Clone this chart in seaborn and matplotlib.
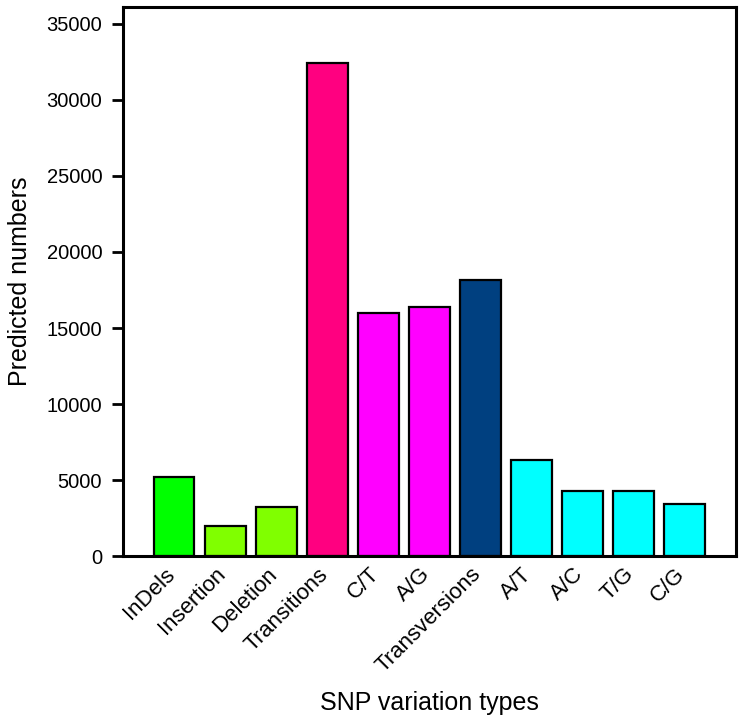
import matplotlib
matplotlib.use("Agg")
import matplotlib.pyplot as plt
import matplotlib.transforms as mtransforms
import seaborn as sns
import pandas as pd

# data
types = ["InDels", "Insertion", "Deletion", "Transitions", "C/T", "A/G",
         "Transversions", "A/T", "A/C", "T/G", "C/G"]
counts = [5200, 1950, 3200, 32400, 16000, 16350, 18150, 6300, 4300, 4300, 3400]
colors = ["#00FF00", "#80FF00", "#80FF00", "#FF0080", "#FF00FF", "#FF00FF",
          "#004080", "#00FFFF", "#00FFFF", "#00FFFF", "#00FFFF"]
yticks = [0, 5000, 10000, 15000, 20000, 25000, 30000, 35000]

df = pd.DataFrame({"type": types, "count": counts})

sns.set_style("white")
plt.rcParams["font.family"] = ["Liberation Sans", "DejaVu Sans"]
plt.rcParams["text.color"] = "black"
plt.rcParams["axes.labelcolor"] = "black"
plt.rcParams["xtick.color"] = "black"
plt.rcParams["ytick.color"] = "black"

fig = plt.figure(figsize=(7.43, 7.24), dpi=100)
ax = fig.add_axes([0.1655, 0.232, 0.825, 0.758])

sns.barplot(data=df, x="type", y="count", hue="type", palette=colors,
            legend=False, width=0.8, edgecolor="black", linewidth=1.6,
            saturation=1, ax=ax)

ax.set_xlim(-1.0, 11.0)
ax.set_ylim(0, 36100)
ax.set_yticks(yticks)
ax.set_yticklabels([str(t) for t in yticks], fontsize=14.5)
ax.tick_params(axis="y", direction="out", length=8, width=2.0, left=True, pad=7)
ax.tick_params(axis="x", length=0, pad=2)
ax.set_xticks(range(len(types)))
ax.set_xticklabels(types, rotation=45, ha="right", rotation_mode="anchor", fontsize=16)

# nudge rotated labels so they end under the bar centre
shift = mtransforms.ScaledTranslation(-0.10, -0.05, fig.dpi_scale_trans)
for lab in ax.get_xticklabels():
    lab.set_transform(lab.get_transform() + shift)

for s in ax.spines.values():
    s.set_visible(True)
    s.set_linewidth(2.2)
    s.set_color("black")

ax.set_xlabel("SNP variation types", fontsize=18, labelpad=10)
ax.set_ylabel("Predicted numbers", fontsize=18, labelpad=10)

fig.savefig("out.png", dpi=100)
